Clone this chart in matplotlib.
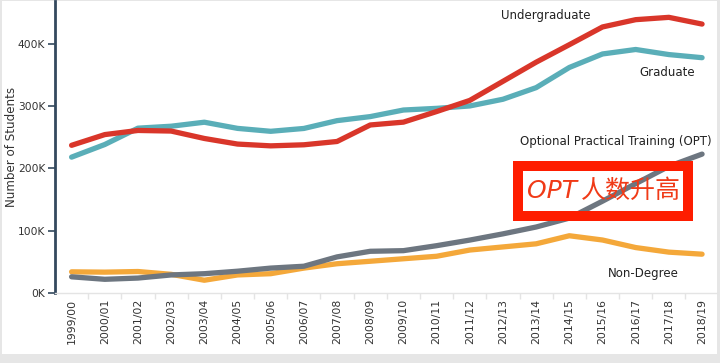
import matplotlib
matplotlib.use("Agg")
import matplotlib.pyplot as plt
from matplotlib.patches import Rectangle
from matplotlib.ticker import FuncFormatter, MultipleLocator

years = ["1999/00", "2000/01", "2001/02", "2002/03", "2003/04", "2004/05", "2005/06",
         "2006/07", "2007/08", "2008/09", "2009/10", "2010/11", "2011/12", "2012/13",
         "2013/14", "2014/15", "2015/16", "2016/17", "2017/18", "2018/19"]

undergraduate = [237211, 254429, 261079, 260103, 248200, 239212, 236342, 238050, 243360,
                 269874, 274431, 291439, 309342, 339993, 370724, 398824, 427313, 439019,
                 442746, 431930]
graduate = [218219, 238497, 264749, 267876, 274310, 264410, 259717, 264288, 276842,
            283329, 293885, 296574, 300430, 311204, 329854, 362228, 383935, 391124,
            382953, 377943]
opt = [26000, 22000, 24000, 29000, 31000, 35000, 40000, 43000, 58000, 67000, 68000,
       76000, 85000, 95000, 105997, 120287, 147498, 175695, 203462, 223085]
non_degree = [34000, 33500, 34500, 30000, 20500, 29000, 31000, 40000, 47000, 51000,
              55000, 59000, 69000, 74000, 79000, 91967, 85093, 72984, 65631, 62341]

series = [
    ("Non-Degree", non_degree, "#f4a83a"),
    ("Optional Practical Training (OPT)", opt, "#6d7680"),
    ("Graduate", graduate, "#5aaeb8"),
    ("Undergraduate", undergraduate, "#d9362a"),
]

W, H = 720, 363
fig = plt.figure(figsize=(W / 100, H / 100), dpi=100, facecolor="#e6e6e6")
fig.patches.append(Rectangle((2 / W, 9 / H), 715 / W, 353 / H, transform=fig.transFigure,
                             facecolor="white", edgecolor="none", zorder=-10))

ax = fig.add_axes([55 / W, 1 - 293 / H, 662 / W, 292 / H])
ax.set_facecolor("none")
ax.set_zorder(1)

x = list(range(len(years)))
for name, vals, col in series:
    ax.plot(x, vals, color=col, lw=3.8, solid_capstyle="round", solid_joinstyle="round")

ax.set_xlim(-0.5, 19.45)
ax.set_ylim(0, 469000)

ax.yaxis.set_major_locator(MultipleLocator(100000))
ax.yaxis.set_major_formatter(FuncFormatter(lambda v, p: f"{int(v/1000)}K"))
ax.tick_params(axis="y", length=5, width=1.2, color="#34495e", labelsize=7.7,
               labelcolor="#333333", pad=2)
ax.set_xticks(x)
ax.set_xticklabels(years, rotation=90, fontsize=7.8, color="#333333")
ax.tick_params(axis="x", length=0, pad=4)
ax.set_xticks([i + 0.5 for i in range(len(years) - 1)], minor=True)
ax.tick_params(axis="x", which="minor", length=4, color="#e4e4e4", width=1)

for s in ["top", "right"]:
    ax.spines[s].set_visible(False)
ax.spines["left"].set_color("#34495e")
ax.spines["left"].set_linewidth(2)
ax.spines["bottom"].set_color("#e4e4e4")
ax.spines["bottom"].set_linewidth(1)

ax.set_ylabel("Number of Students", fontsize=8.6, color="#333333")
ax.yaxis.set_label_coords(-(55 - 18) / 662, 0.5)

lab_kw = dict(fontsize=8.5, color="#222222", va="center", ha="left")
ax.text(12.95, 445000, "Undergraduate", **lab_kw)
ax.text(17.1, 354000, "Graduate", **lab_kw)
ax.text(13.5, 244000, "Optional Practical Training (OPT)", **lab_kw)
ax.text(16.17, 32000, "Non-Degree", **lab_kw)

# annotation frame
fig.patches.append(Rectangle((518 / W, 1 - 216 / H), 170 / W, 50 / H, transform=fig.transFigure,
                             facecolor="none", edgecolor="#fe1d00", lw=7.2, zorder=5))
fig.text(552 / W, 1 - 191 / H, "OPT", color="#f03a17", fontsize=18, style="italic",
         family="DejaVu Sans", fontweight="light", ha="center", va="center", zorder=6)
fig.text(631 / W, 1 - 191 / H, "人数升高", color="#f03a17", fontsize=18,
         family=["Noto Sans CJK SC", "DejaVu Sans"], ha="center", va="center", zorder=6)

fig.savefig("out.png", dpi=100, facecolor=fig.get_facecolor())
